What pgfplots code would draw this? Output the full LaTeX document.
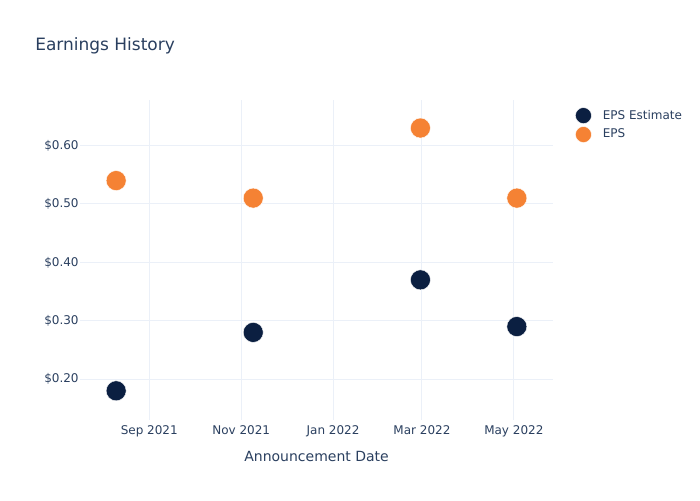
\documentclass[border=0pt]{standalone}
\usepackage{pgfplots}
\pgfplotsset{compat=1.18}
\usepackage{fontspec}
\setmainfont{DejaVu Sans}
\definecolor{txt}{HTML}{2A3F5F}
\definecolor{grid}{HTML}{EBF0F8}
\definecolor{navy}{HTML}{0B1F41}
\definecolor{orng}{HTML}{F58234}
\begin{document}
\begin{tikzpicture}
\useasboundingbox (0,0) rectangle (525pt,375pt);
\begin{axis}[
  at={(60pt,60pt)}, anchor=south west,
  scale only axis, width=354.75pt, height=240pt,
  xmin=-46, xmax=268, ymin=0.130, ymax=0.678,
  axis line style={draw=none},
  major tick style={draw=none},
  grid=major, major grid style={color=grid, line width=0.75pt},
  xtick={0,61,122,181,242},
  xticklabels={Sep 2021, Nov 2021, Jan 2022, Mar 2022, May 2022},
  ytick={0.2,0.3,0.4,0.5,0.6},
  yticklabels={\$0.20,\$0.30,\$0.40,\$0.50,\$0.60},
  tick label style={font=\fontsize{9pt}{11pt}\selectfont, text=txt},
  xticklabel style={yshift=-0.5pt},
  yticklabel style={xshift=2.5pt},
  legend style={at={(1.03,0.99)}, anchor=north west, draw=none, fill=none,
    font=\fontsize{9pt}{11pt}\selectfont, text=txt, row sep=0pt,
    nodes={inner sep=1pt},
    legend cell align=left},
  legend image code/.code={\path[draw=none,fill=none] (0,-7.1pt) rectangle (22.5pt,7.1pt); \draw[mark size=6pt] plot coordinates {(9pt,0pt)};},
]
\addplot[only marks, mark=*, mark size=7.5pt, color=navy, mark options={draw=white, line width=0.3pt, fill=navy}] coordinates {
  (-22,0.18) (69,0.28) (180,0.37) (244,0.29)};
\addlegendentry{EPS Estimate}
\addplot[only marks, mark=*, mark size=7.5pt, color=orng, mark options={draw=white, line width=0.3pt, fill=orng}] coordinates {
  (-22,0.54) (69,0.51) (180,0.63) (244,0.51)};
\addlegendentry{EPS}
\end{axis}
\node[anchor=west, inner sep=0pt, text=txt, font=\fontsize{12.75pt}{15pt}\selectfont] at (26.25pt,340.5pt) {Earnings History};
\node[text=txt, font=\fontsize{10.5pt}{13pt}\selectfont] at (237.4pt,33pt) {Announcement Date};
\end{tikzpicture}
\end{document}
